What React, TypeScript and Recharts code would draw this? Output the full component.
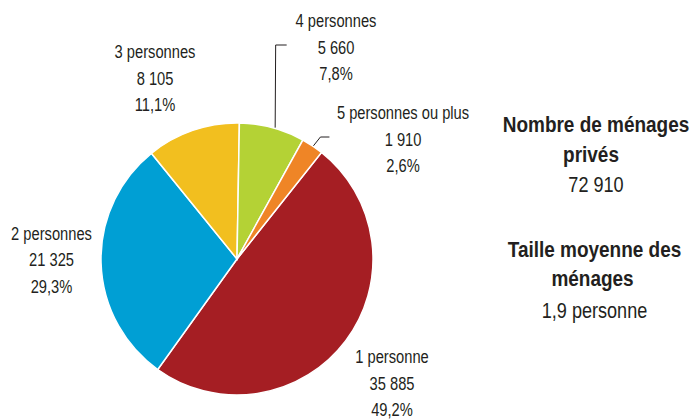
import React from 'react';
import { PieChart, Pie, Cell } from 'recharts';

const categories = ['1 personne', '2 personnes', '3 personnes', '4 personnes', '5 personnes ou plus'];
const households = [35885, 21325, 8105, 5660, 1910];
const shares = ['49,2%', '29,3%', '11,1%', '7,8%', '2,6%'];
const colors = ['#A51E23', '#009FD4', '#F2BF1F', '#B4D235', '#EF8526'];

const totalTitle = ['Nombre de ménages', 'privés'];
const totalHouseholds = '72 910';
const averageTitle = ['Taille moyenne des', 'ménages'];
const averageSize = '1,9 personne';

// Arial-metric font squeezed horizontally to look like a condensed face
const FONT = '"Liberation Sans", Arial, sans-serif';
const INK = '#231F20';

const data = categories.map((name, i) => ({
  name,
  value: households[i],
  share: shares[i],
}));

const fmt = (v: number) => v.toLocaleString('fr-FR').replace(/\u202f|\u00a0/g, ' ');

// label block position relative to pie centre (x centre, first baseline)
const labelOffsets = [
  { dx: 155, dy: 104 },
  { dx: -185.5, dy: -19.5 },
  { dx: -82, dy: -201 },
  { dx: 99, dy: -232 },
  { dx: 166, dy: -140 },
];

const Squeezed: React.FC<{ x: number; y: number; size: number; sx: number; bold?: boolean; children: React.ReactNode }> = ({
  x,
  y,
  size,
  sx,
  bold,
  children,
}) => (
  <g transform={`translate(${x},${y}) scale(${sx},1)`}>
    <text x={0} y={0} textAnchor="middle" fill={INK} fontSize={size} fontWeight={bold ? 'bold' : 'normal'} fontFamily={FONT}>
      {children}
    </text>
  </g>
);

const renderLabel = (props: any) => {
  const { cx, cy, midAngle, outerRadius, index } = props;
  const off = labelOffsets[index];
  const x = cx + off.dx;
  const y = cy + off.dy;
  const d = data[index];
  const RAD = Math.PI / 180;
  const ex = cx + outerRadius * Math.cos(-midAngle * RAD);
  const ey = cy + outerRadius * Math.sin(-midAngle * RAD);
  let leader: React.ReactNode = null;
  if (index === 3) {
    leader = (
      <polyline
        points={`${ex + 3},${ey} ${ex + 3.5},${cy - 214} ${ex + 14.5},${cy - 214}`}
        fill="none"
        stroke={INK}
        strokeWidth={1}
      />
    );
  } else if (index === 4) {
    leader = (
      <polyline
        points={`${ex + 1},${ey} ${ex + 8},${cy - 122} ${ex + 17},${cy - 122}`}
        fill="none"
        stroke={INK}
        strokeWidth={1}
      />
    );
  }
  const lines = [d.name, fmt(d.value), d.share];
  return (
    <g>
      {leader}
      {lines.map((t, i) => (
        <Squeezed key={i} x={x} y={y + i * 26.5} size={18.6} sx={0.79}>
          {t}
        </Squeezed>
      ))}
    </g>
  );
};

const App: React.FC = () => {
  return (
    <div style={{ position: 'absolute', left: 0, top: 0, width: 690, height: 419, background: '#fff' }}>
      <PieChart width={690} height={419} margin={{ top: 0, right: 0, bottom: 0, left: 0 }}>
        <Pie
          data={data}
          dataKey="value"
          nameKey="name"
          cx={237}
          cy={259}
          outerRadius={136}
          startAngle={51.6}
          endAngle={51.6 - 360}
          stroke="#ffffff"
          strokeWidth={1.5}
          label={renderLabel}
          labelLine={false}
          isAnimationActive={false}
        >
          {data.map((entry, index) => (
            <Cell key={`cell-${index}`} fill={colors[index]} />
          ))}
        </Pie>
      </PieChart>
      <svg width={690} height={419} style={{ position: 'absolute', left: 0, top: 0, pointerEvents: 'none' }}>
        <Squeezed x={596} y={132.3} size={21.8} sx={0.87} bold>
          {totalTitle[0]}
        </Squeezed>
        <Squeezed x={591} y={161.7} size={21.8} sx={0.87} bold>
          {totalTitle[1]}
        </Squeezed>
        <Squeezed x={596} y={192.3} size={21.8} sx={0.83}>
          {totalHouseholds}
        </Squeezed>
        <Squeezed x={594.5} y={257.3} size={21.8} sx={0.87} bold>
          {averageTitle[0]}
        </Squeezed>
        <Squeezed x={592.5} y={286} size={21.8} sx={0.87} bold>
          {averageTitle[1]}
        </Squeezed>
        <Squeezed x={594.5} y={318.3} size={21.8} sx={0.83}>
          {averageSize}
        </Squeezed>
      </svg>
    </div>
  );
};

export default App;
